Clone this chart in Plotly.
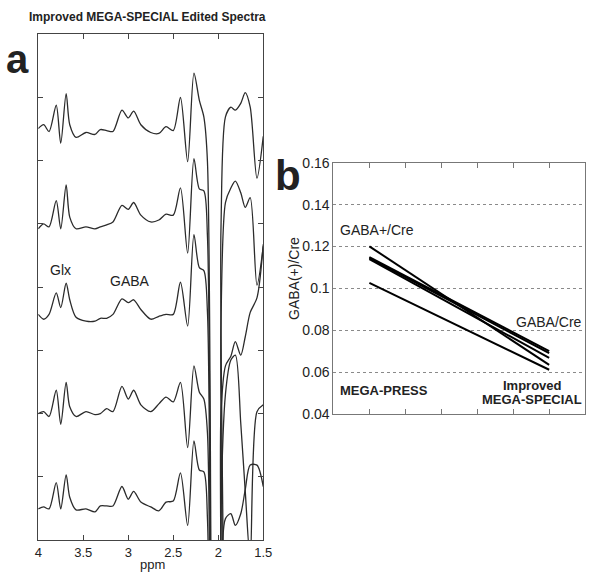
import plotly.graph_objects as go

# ---------------- data ----------------
# panel a: chemical shift (ppm) key points and five edited spectra (arbitrary intensity units)
ppm = [4.00, 3.94, 3.88, 3.80, 3.75, 3.69, 3.65, 3.58, 3.47, 3.37, 3.31, 3.24, 3.17,
       3.07, 3.00, 2.94, 2.86, 2.75, 2.66, 2.58, 2.50, 2.42, 2.34, 2.27, 2.21, 2.16,
       2.12, 2.08, 2.05, 2.00, 1.97, 1.92, 1.86, 1.81, 1.75, 1.70, 1.645, 1.57, 1.50]

spectrum_1 = [4, 8, 1, 28, -11, 40, 8, -5, 0, -2, 3, 2, 1, 23, 15, 22, 8, 0, -1, 6, 2,
              36, -30, 61, 33, 16, -30, -450, -900, -900, -100, 16, 26, 23, 30, 41, 26, -47, -4]
spectrum_2 = [-2, 3, 0, 27, -2, 43, 10, -2, 0, -2, 0, 2, 5, 22, 18, 25, 12, 5, 7, 13, 12,
              40, -27, 70, 39, 37, -10, -450, -900, -900, -100, 25, 40, 47, 35, 20, 30, -60, -20]
spectrum_3 = [3, -2, 3, 25, 10, 35, 18, 0, -4, -4, -1, -1, 3, 19, 15, 18, 8, -2, 1, 3, 3,
              36, -9, 85, 51, 48, 5, -450, -900, -900, -100, -50, -40, -25, -39, -20, 5, 20, 75]
spectrum_4 = [0, 2, -3, 24, -11, 32, 7, -3, 2, -1, 0, 5, 2, 28, 15, 24, 9, 2, 10, 17, 12,
              32, -35, 49, 22, 15, -20, -450, -900, -900, -100, 20, 55, 60, -10, -80, -150, 2, 9]
spectrum_5 = [0, 2, 0, 27, 0, 35, 12, -1, 0, -3, 3, 3, 3, 23, 10, 18, 7, 2, -2, 7, 8,
              37, -17, 70, 40, 38, -10, -450, -900, -900, -100, -10, -5, -17, -5, 20, 45, 45, 23]
spectra = [spectrum_1, spectrum_2, spectrum_3, spectrum_4, spectrum_5]
stack_offsets = [419, 322, 229, 130, 32]

ppm_ticks = [4, 3.5, 3, 2.5, 2, 1.5]
ppm_ticktext = ["4", "3.5", "3", "2.5", "2", "1.5"]

# panel b: GABA(+)/Cre per subject, MEGA-PRESS vs improved MEGA-SPECIAL
method_pos = [1, 6]
mega_press = [0.1201, 0.1150, 0.1145, 0.1140, 0.1026]
mega_special = [0.0634, 0.0700, 0.0691, 0.0668, 0.0611]

ratio_ticks = [0.04, 0.06, 0.08, 0.10, 0.12, 0.14, 0.16]
ratio_ticktext = ["0.04", "0.06", "0.08", "0.1", "0.12", "0.14", "0.16"]

# ---------------- figure ----------------
W, H = 600, 584
FONT = "Liberation Sans, Arial, Helvetica, sans-serif"
TXT = "#222222"


def fx(x):
    return x / W


def fy(y):
    return 1 - y / H


fig = go.Figure()

for amp, off in zip(spectra, stack_offsets):
    fig.add_trace(go.Scatter(
        x=ppm, y=[a + off for a in amp], mode="lines",
        line=dict(color="#2b2b2b", width=1.3, shape="spline", smoothing=0.8),
        xaxis="x", yaxis="y", showlegend=False, hoverinfo="skip"))

for s, e in zip(mega_press, mega_special):
    fig.add_trace(go.Scatter(
        x=method_pos, y=[s, e], mode="lines",
        line=dict(color="#000000", width=2),
        xaxis="x2", yaxis="y2", showlegend=False, hoverinfo="skip"))

fig.update_layout(
    width=W, height=H,
    margin=dict(l=0, r=0, t=0, b=0),
    paper_bgcolor="white", plot_bgcolor="white",
    font=dict(family=FONT, color=TXT),
    xaxis=dict(domain=[fx(35), fx(265)], range=[4, 1.5], anchor="y",
               tickvals=ppm_ticks, ticktext=ppm_ticktext,
               ticks="inside", ticklen=5, tickcolor="#444", mirror="ticks",
               showline=True, linecolor="#444", linewidth=1,
               showgrid=False, zeroline=False,
               tickfont=dict(size=13, color=TXT, family=FONT)),
    yaxis=dict(domain=[fy(547), fy(27)], range=[0, 520], anchor="x",
               tickvals=[65 * k for k in range(9)], showticklabels=False,
               ticks="inside", ticklen=5, tickcolor="#444", mirror="ticks",
               showline=True, linecolor="#444", linewidth=1,
               showgrid=False, zeroline=False),
    xaxis2=dict(domain=[fx(336.7), fx(594)], range=[0, 7], anchor="y2",
                tickvals=[1, 2, 3, 4, 5, 6], showticklabels=False,
                ticks="inside", ticklen=5, tickcolor="#777", mirror="ticks",
                showline=True, linecolor="#777", linewidth=1,
                showgrid=False, zeroline=False),
    yaxis2=dict(domain=[fy(417.3), fy(159.3)], range=[0.04, 0.16], anchor="x2",
                tickvals=ratio_ticks, ticktext=ratio_ticktext,
                ticks="", mirror=True,
                showline=True, linecolor="#777", linewidth=1,
                showgrid=True, gridcolor="#8a8a8a", griddash="dot", gridwidth=1,
                zeroline=False,
                tickfont=dict(size=14, color=TXT, family=FONT)),
)

ann = []


def add_text(text, x, y, size, bold=False, xanchor="left", angle=0):
    ann.append(dict(text=("<b>%s</b>" % text) if bold else text,
                    x=fx(x), y=fy(y), xref="paper", yref="paper",
                    xanchor=xanchor, yanchor="middle", showarrow=False,
                    textangle=angle,
                    font=dict(family=FONT, size=size, color=TXT)))


add_text("Improved MEGA-SPECIAL Edited Spectra", 147, 9, 12, bold=True, xanchor="center")
add_text("a", 0, 52, 40, bold=True, xanchor="left")
add_text("b", 275, 172, 42, bold=True, xanchor="left")
add_text("Glx", 45, 269, 14)
add_text("GABA", 106, 281, 14)
add_text("ppm", 152, 572, 13, xanchor="center")
add_text("GABA(+)/Cre", 297, 278, 14, xanchor="center", angle=-90)
add_text("GABA+/Cre", 341, 228, 14)
add_text("GABA/Cre", 521, 323, 14)
add_text("MEGA-PRESS", 341, 393, 13, bold=True)
add_text("Improved", 540, 388, 13, bold=True, xanchor="center")
add_text("MEGA-SPECIAL", 540, 403, 13, bold=True, xanchor="center")

fig.update_layout(annotations=ann)

fig.write_html(
    "out.html",
    config={"displayModeBar": False},
    post_script="document.body.style.margin='0';document.body.style.padding='0';"
                "document.documentElement.style.overflow='hidden';",
)
